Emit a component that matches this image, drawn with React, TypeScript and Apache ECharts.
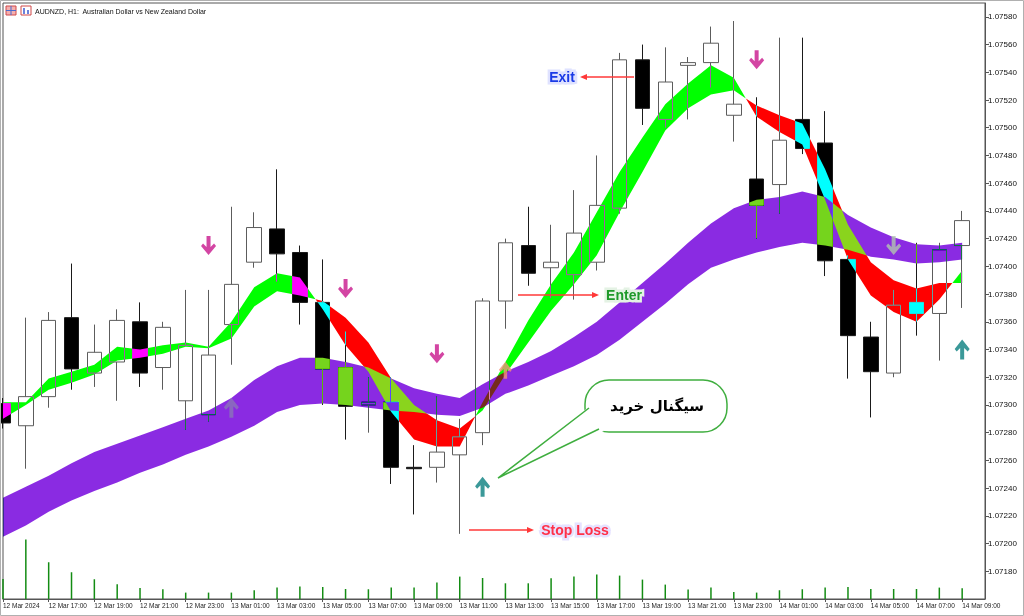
import React, { useEffect, useRef } from 'react';
import * as echarts from 'echarts';

// ---- time axis labels (every 2 bars, bar 0 = 12 Mar 15:00) ----
const timeLabels = [
  '12 Mar 2024', '12 Mar 17:00', '12 Mar 19:00', '12 Mar 21:00', '12 Mar 23:00',
  '13 Mar 01:00', '13 Mar 03:00', '13 Mar 05:00', '13 Mar 07:00', '13 Mar 09:00',
  '13 Mar 11:00', '13 Mar 13:00', '13 Mar 15:00', '13 Mar 17:00', '13 Mar 19:00',
  '13 Mar 21:00', '13 Mar 23:00', '14 Mar 01:00', '14 Mar 03:00', '14 Mar 05:00',
  '14 Mar 07:00', '14 Mar 09:00',
];

// ---- AUDNZD H1 candles ----
const openP = [1.07301, 1.07285, 1.07306, 1.07363, 1.07323, 1.07331, 1.07360, 1.07327, 1.07303, 1.07293, 1.07358, 1.07403, 1.07427, 1.07410, 1.07374, 1.07327, 1.07300, 1.07302, 1.07255, 1.07255, 1.07264, 1.07280, 1.07375, 1.07415, 1.07399, 1.07394, 1.07403, 1.07442, 1.07549, 1.07506, 1.07545, 1.07547, 1.07509, 1.07463, 1.07459, 1.07506, 1.07489, 1.07405, 1.07349, 1.07323, 1.07374, 1.07366, 1.07415];
const closeP = [1.07287, 1.07306, 1.07361, 1.07326, 1.07338, 1.07361, 1.07323, 1.07356, 1.07343, 1.07336, 1.07387, 1.07428, 1.07409, 1.07374, 1.07326, 1.07299, 1.07302, 1.07255, 1.07254, 1.07266, 1.07277, 1.07375, 1.07417, 1.07395, 1.07403, 1.07424, 1.07444, 1.07549, 1.07514, 1.07533, 1.07547, 1.07561, 1.07517, 1.07444, 1.07491, 1.07485, 1.07404, 1.07350, 1.07324, 1.07372, 1.07366, 1.07412, 1.07433];
const lowP = [1.07283, 1.07254, 1.07298, 1.07311, 1.07313, 1.07303, 1.07313, 1.07311, 1.07282, 1.07288, 1.07329, 1.07399, 1.07389, 1.07358, 1.07300, 1.07275, 1.07280, 1.07243, 1.07221, 1.07244, 1.07207, 1.07271, 1.07355, 1.07386, 1.07377, 1.07376, 1.07397, 1.07438, 1.07502, 1.07500, 1.07506, 1.07529, 1.07490, 1.07420, 1.07438, 1.07481, 1.07393, 1.07319, 1.07291, 1.07320, 1.07350, 1.07332, 1.07370];
const highP = [1.07305, 1.07363, 1.07367, 1.07402, 1.07358, 1.07369, 1.07374, 1.07360, 1.07383, 1.07383, 1.07443, 1.07439, 1.07470, 1.07415, 1.07405, 1.07353, 1.07320, 1.07320, 1.07271, 1.07306, 1.07290, 1.07377, 1.07420, 1.07443, 1.07430, 1.07455, 1.07480, 1.07554, 1.07560, 1.07558, 1.07551, 1.07573, 1.07577, 1.07522, 1.07565, 1.07565, 1.07512, 1.07408, 1.07360, 1.07383, 1.07417, 1.07417, 1.07440];

// ---- tick volumes ----
const volumes = [400, 1190, 735, 535, 395, 295, 220, 195, 128, 128, 128, 175, 228, 248, 240, 200, 195, 228, 228, 328, 448, 420, 314, 314, 414, 448, 488, 468, 388, 288, 188, 228, 140, 128, 175, 195, 228, 240, 200, 200, 200, 228, 214];

// ---- fast / slow ribbon lines ----
const fastLine = [1.07302, 1.07302, 1.07319, 1.07324, 1.07329, 1.07342, 1.07340, 1.07343, 1.07345, 1.07342, 1.07360, 1.07385, 1.07395, 1.07392, 1.07369, 1.07343, 1.07324, 1.07295, 1.07275, 1.07270, 1.07270, 1.07302, 1.07331, 1.07361, 1.07387, 1.07410, 1.07439, 1.07468, 1.07493, 1.07517, 1.07532, 1.07545, 1.07536, 1.07508, 1.07497, 1.07488, 1.07448, 1.07405, 1.07379, 1.07367, 1.07360, 1.07376, 1.07397];
const slowLine = [1.07290, 1.07300, 1.07311, 1.07316, 1.07322, 1.07332, 1.07334, 1.07337, 1.07342, 1.07341, 1.07348, 1.07371, 1.07382, 1.07379, 1.07375, 1.07363, 1.07345, 1.07319, 1.07300, 1.07289, 1.07283, 1.07296, 1.07322, 1.07345, 1.07368, 1.07387, 1.07408, 1.07439, 1.07468, 1.07498, 1.07514, 1.07524, 1.07527, 1.07516, 1.07509, 1.07503, 1.07470, 1.07430, 1.07403, 1.07390, 1.07384, 1.07388, 1.07388];

// ---- slow purple band ----
const purpleTop = [1.07233, 1.07241, 1.07249, 1.07258, 1.07266, 1.07272, 1.07278, 1.07284, 1.07290, 1.07296, 1.07305, 1.07318, 1.07328, 1.07334, 1.07334, 1.07331, 1.07327, 1.07319, 1.07312, 1.07308, 1.07305, 1.07315, 1.07324, 1.07331, 1.07339, 1.07349, 1.07360, 1.07374, 1.07388, 1.07402, 1.07417, 1.07431, 1.07442, 1.07448, 1.07450, 1.07454, 1.07450, 1.07437, 1.07428, 1.07421, 1.07416, 1.07415, 1.07417];
const purpleBottom = [1.07205, 1.07213, 1.07223, 1.07231, 1.07238, 1.07244, 1.07251, 1.07257, 1.07264, 1.07270, 1.07277, 1.07285, 1.07295, 1.07300, 1.07301, 1.07300, 1.07298, 1.07296, 1.07295, 1.07293, 1.07292, 1.07298, 1.07308, 1.07314, 1.07321, 1.07328, 1.07336, 1.07347, 1.07360, 1.07373, 1.07387, 1.07399, 1.07405, 1.07410, 1.07414, 1.07417, 1.07415, 1.07412, 1.07407, 1.07405, 1.07402, 1.07403, 1.07405];

// ---- signal arrows [barIndex, price] ----
const sellArrows = [[9, 1.07415], [15, 1.07384], [19, 1.07337], [33, 1.07549]];
const fadedSellArrows = [[39, 1.07415]];
const buyArrows = [[21, 1.07241], [42, 1.07340]];
const fadedBuyArrows = [[10, 1.07298]];
const salmonBuyArrows = [[22, 1.07325]];

// "pen" colours drawn with difference blending (MT4 xor look)
const PURPLE_PEN = '#75d41d';
const GREEN_PEN = '#ff00ff';
const RED_PEN = '#00ffff';
const BLEND_SET = new Set(['rgb(117, 212, 29)', 'rgb(255, 0, 255)', 'rgb(0, 255, 255)']);

const DOWN_ARROW = 'path://M5.5,0L9.5,0L9.5,11L13,7.5L15,10L7.5,19L0,10L2,7.5L5.5,11Z';
const UP_ARROW = 'path://M5.5,19L9.5,19L9.5,8L13,11.5L15,9L7.5,0L0,9L2,11.5L5.5,8Z';

type Run = { bull: boolean; a: number[][]; b: number[][] };

function ribbonRuns(): Run[] {
  const runs: Run[] = [];
  let a: number[][] = [[0, fastLine[0]]];
  let b: number[][] = [[0, slowLine[0]]];
  let bull = fastLine[0] >= slowLine[0];
  for (let i = 0; i < fastLine.length - 1; i++) {
    const d0 = fastLine[i] - slowLine[i];
    const d1 = fastLine[i + 1] - slowLine[i + 1];
    if ((d0 >= 0) !== (d1 >= 0)) {
      const t = d0 / (d0 - d1);
      const x = i + t;
      const y = fastLine[i] + t * (fastLine[i + 1] - fastLine[i]);
      a.push([x, y]);
      b.push([x, y]);
      runs.push({ bull, a, b });
      a = [[x, y]];
      b = [[x, y]];
      bull = d1 >= 0;
    }
    a.push([i + 1, fastLine[i + 1]]);
    b.push([i + 1, slowLine[i + 1]]);
  }
  runs.push({ bull, a, b });
  return runs;
}

const FONT = '"Liberation Sans", Arial, sans-serif';

function haloText(text: string, x: number, y: number, color: string, halo: string) {
  const base = {
    text, x: 0, y: 0, font: `bold 14px ${FONT}`,
    align: 'center', verticalAlign: 'middle', textAlign: 'center', textVerticalAlign: 'middle',
  };
  return [
    { type: 'text', x, y, z: 101, style: { ...base, fill: halo, stroke: halo, lineWidth: 5 } },
    { type: 'text', x, y, z: 102, style: { ...base, fill: color } },
  ];
}

function redArrow(x1: number, x2: number, y: number) {
  const dir = x2 > x1 ? 1 : -1;
  return [
    { type: 'line', z: 101, shape: { x1, y1: y, x2: x2 - dir * 5, y2: y }, style: { stroke: '#ff3838', lineWidth: 1.5 } },
    { type: 'polygon', z: 101, shape: { points: [[x2, y], [x2 - dir * 7, y - 3], [x2 - dir * 7, y + 3]] }, style: { fill: '#ff3838' } },
  ];
}

export default function App() {
  const ref = useRef<HTMLDivElement>(null);

  useEffect(() => {
    const el = ref.current as HTMLDivElement;
    const chart = echarts.init(el, null, { renderer: 'svg' });
    const runs = ribbonRuns();
    const evenTicks = timeLabels.map((_, k) => k * 2);

    const option: any = {
      animation: false,
      backgroundColor: '#ffffff',
      grid: [
        { left: 3, right: 39, top: 3, bottom: 17, show: true, borderColor: '#555', borderWidth: 1, backgroundColor: 'transparent' },
        { left: 3, right: 39, bottom: 17, height: 100 },
      ],
      xAxis: [
        {
          type: 'value', gridIndex: 0, min: 0, max: 43,
          splitLine: { show: false },
          axisLine: { show: true, onZero: false, lineStyle: { color: '#555' } },
          axisTick: { show: true, customValues: evenTicks, length: 3, lineStyle: { color: '#555' } },
          axisLabel: {
            customValues: evenTicks,
            formatter: (v: number) => timeLabels[Math.round(v / 2)] || '',
            align: 'left', fontSize: 6.5, fontFamily: FONT, color: '#222', margin: 3,
          },
        },
        { type: 'value', gridIndex: 1, min: 0, max: 43, show: false },
      ],
      yAxis: [
        {
          type: 'value', gridIndex: 0, position: 'right', min: 1.0716, max: 1.0759, interval: 0.0002,
          splitLine: { show: false },
          axisLine: { show: true, onZero: false, lineStyle: { color: '#555' } },
          axisTick: { show: true, length: 4, lineStyle: { color: '#555' } },
          axisLabel: {
            formatter: (v: number) => v.toFixed(5), fontSize: 8, fontFamily: FONT, color: '#111', margin: 3,
            showMinLabel: false, showMaxLabel: false,
          },
        },
        { type: 'value', gridIndex: 1, min: 0, max: 2000, show: false },
      ],
      series: [
        {
          type: 'bar', name: 'Volume', xAxisIndex: 1, yAxisIndex: 1, silent: true, z: 1,
          data: volumes.map((v, i) => [i, v]), barWidth: 1.5,
          itemStyle: { color: '#138c13' },
        },
        {
          type: 'candlestick', name: 'AUDNZD', xAxisIndex: 0, yAxisIndex: 0, silent: true, z: 2,
          data: openP.map((o, i) => [i, o, closeP[i], lowP[i], highP[i]]),
          encode: { x: 0, y: [1, 2, 3, 4] },
          barWidth: 15,
          itemStyle: { color: 'rgba(255,255,255,0)', color0: '#000000', borderColor: '#5c5c5c', borderColor0: '#1a1a1a', borderWidth: 1 },
        },
        {
          type: 'custom', name: 'Bands', xAxisIndex: 0, yAxisIndex: 0, silent: true, z: 3, clip: false,
          data: purpleTop.map((v, i) => [i, v, purpleBottom[i]]),
          encode: { x: 0, y: [1, 2] },
          renderItem: (params: any, api: any) => {
            if (params.dataIndex !== 0) return null;
            const px = (p: number[]) => api.coord(p);
            const children: any[] = [];
            const purplePts = [
              ...purpleTop.map((v, i) => px([i, v])),
              ...purpleBottom.map((v, i) => px([i, v])).reverse(),
            ];
            children.push({ type: 'polygon', shape: { points: purplePts }, style: { fill: PURPLE_PEN } });
            runs.forEach((r) => {
              children.push({
                type: 'polygon',
                shape: { points: [...r.a.map(px), ...r.b.map(px).reverse()] },
                style: { fill: r.bull ? GREEN_PEN : RED_PEN },
              });
            });
            return { type: 'group', children };
          },
        },
        { type: 'scatter', name: 'Sell', silent: true, z: 6, data: sellArrows, symbol: DOWN_ARROW, symbolSize: [15, 19], itemStyle: { color: '#c8168c' } },
        { type: 'scatter', name: 'Sell faded', silent: true, z: 6, data: fadedSellArrows, symbol: DOWN_ARROW, symbolSize: [15, 19], itemStyle: { color: '#b2c6b0' } },
        { type: 'scatter', name: 'Buy', silent: true, z: 6, data: buyArrows, symbol: UP_ARROW, symbolSize: [15, 20], itemStyle: { color: '#0a7f80' } },
        { type: 'scatter', name: 'Buy faded', silent: true, z: 6, data: fadedBuyArrows, symbol: UP_ARROW, symbolSize: [15, 20], itemStyle: { color: '#8a76b8' } },
        { type: 'scatter', name: 'Buy salmon', silent: true, z: 6, data: salmonBuyArrows, symbol: UP_ARROW, symbolSize: [13, 17], itemStyle: { color: '#f2907c' } },
      ],
      graphic: [
        { type: 'rect', z: 90, shape: { x: 0.5, y: 0.5, width: 1023, height: 615 }, style: { fill: 'none', stroke: '#b0b0b0', lineWidth: 1 } },
        // title icons
        { type: 'rect', z: 100, shape: { x: 6, y: 6, width: 10, height: 9 }, style: { fill: '#f4b0b0', stroke: '#d04848', lineWidth: 1 } },
        { type: 'line', z: 100, shape: { x1: 6, y1: 10.5, x2: 16, y2: 10.5 }, style: { stroke: '#4a6ad0', lineWidth: 1 } },
        { type: 'line', z: 100, shape: { x1: 11, y1: 6, x2: 11, y2: 15 }, style: { stroke: '#4a6ad0', lineWidth: 1 } },
        { type: 'rect', z: 100, shape: { x: 21, y: 6, width: 10, height: 9 }, style: { fill: '#ffffff', stroke: '#d04848', lineWidth: 1 } },
        { type: 'line', z: 100, shape: { x1: 24, y1: 8, x2: 24, y2: 14 }, style: { stroke: '#3a5ad0', lineWidth: 1.5 } },
        { type: 'line', z: 100, shape: { x1: 28, y1: 10, x2: 28, y2: 14 }, style: { stroke: '#3a5ad0', lineWidth: 1.5 } },
        {
          type: 'text', z: 100, x: 35, y: 11,
          style: { text: 'AUDNZD, H1:  Australian Dollar vs New Zealand Dollar', font: `7px ${FONT}`, fill: '#111', verticalAlign: 'middle', textVerticalAlign: 'middle' },
        },
        // annotations
        ...redArrow(634, 580, 77),
        ...haloText('Exit', 562, 77, '#1a3ae6', '#dfe2ff'),
        ...redArrow(518, 599, 295),
        ...haloText('Enter', 624, 295, '#1f9a2a', '#e4f2e4'),
        ...redArrow(469, 534, 530),
        ...haloText('Stop Loss', 575, 530, '#ff3048', '#e6e2ff'),
        { type: 'rect', z: 101, shape: { x: 585, y: 380, width: 142, height: 52, r: 24 }, style: { fill: '#ffffff', stroke: '#3fae3f', lineWidth: 1.5 } },
        { type: 'polygon', z: 102, shape: { points: [[498, 478], [590, 406], [604, 431]] }, style: { fill: '#ffffff' } },
        { type: 'polyline', z: 103, shape: { points: [[589, 408], [498, 478], [599, 429]] }, style: { stroke: '#3fae3f', lineWidth: 1.5, fill: 'none' } },
        {
          type: 'text', z: 104, x: 657, y: 406,
          style: { text: 'سیگنال خرید', font: `bold 15px "DejaVu Sans", sans-serif`, fill: '#000', align: 'center', verticalAlign: 'middle', textAlign: 'center', textVerticalAlign: 'middle' },
        },
      ],
    };

    chart.setOption(option);

    const applyBlend = () => {
      el.querySelectorAll('path').forEach((p) => {
        const f = getComputedStyle(p).fill;
        if (BLEND_SET.has(f)) (p as SVGElement).style.mixBlendMode = 'difference';
      });
    };
    applyBlend();
    chart.on('finished', applyBlend);
    const t1 = setTimeout(applyBlend, 30);
    const t2 = setTimeout(applyBlend, 200);

    return () => {
      clearTimeout(t1);
      clearTimeout(t2);
      chart.dispose();
    };
  }, []);

  return (
    <div
      ref={ref}
      style={{ position: 'fixed', left: 0, top: 0, width: 1024, height: 616, background: '#ffffff' }}
    />
  );
}
